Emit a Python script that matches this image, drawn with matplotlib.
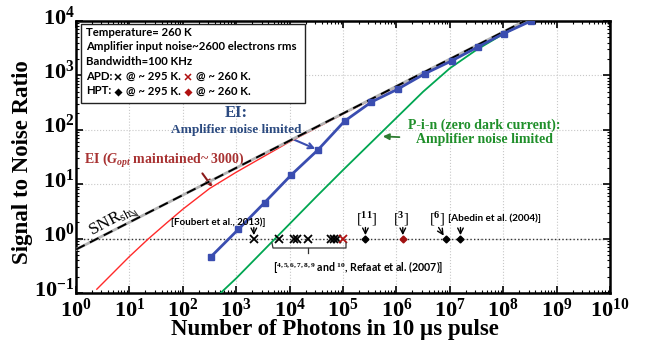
import numpy as np
import matplotlib
matplotlib.use("Agg")
import matplotlib.pyplot as plt
from matplotlib.lines import Line2D
from matplotlib.patches import Rectangle
from matplotlib.transforms import ScaledTranslation
from matplotlib.ticker import LogLocator, FuncFormatter, NullFormatter

# valores (exponentes en base 10)
shot_logn = [0.0, 1.0, 2.0, 3.0, 4.0, 5.0, 6.0, 7.0, 8.0, 8.6]
shot_logsnr = [-0.20, 0.30, 0.80, 1.30, 1.80, 2.30, 2.80, 3.30, 3.80, 4.10]

ei_gopt_logn = [0.39, 1.0, 1.36, 1.7, 2.0, 2.5, 3.0, 3.5, 4.0, 5.0, 6.0, 7.0, 8.0, 8.6]
ei_gopt_logsnr = [-0.93, -0.33, 0.0, 0.29, 0.54, 0.92, 1.22, 1.50, 1.78, 2.29, 2.79, 3.29, 3.79, 4.09]

ei_amp_logn = [2.53, 3.04, 3.53, 4.03, 4.53, 5.03, 5.53, 6.03, 6.53, 7.04, 7.52, 8.01, 8.52]
ei_amp_logsnr = [-0.33, 0.17, 0.66, 1.17, 1.63, 2.16, 2.51, 2.75, 3.03, 3.27, 3.52, 3.77, 4.00]

pin_logn = [2.6, 3.0, 3.5, 4.0, 4.5, 5.0, 5.5, 6.0, 6.5, 7.0, 7.5, 8.0, 8.5]
pin_logsnr = [-1.10, -0.73, -0.23, 0.27, 0.77, 1.26, 1.74, 2.22, 2.70, 3.13, 3.47, 3.76, 4.01]

# dispositivos reportados (SNR = 1)
apd295_logn = [3.33, 3.81, 4.08, 4.14, 4.35, 4.77, 4.83, 4.89]
apd260_logn = [5.0]
hpt295_logn = [5.42, 6.92, 7.2]
hpt260_logn = [6.12]

W, H = 648, 348

plt.rcParams['mathtext.fontset'] = 'custom'
plt.rcParams['mathtext.rm'] = 'Liberation Serif'
plt.rcParams['mathtext.it'] = 'Liberation Serif:italic:bold'
plt.rcParams['mathtext.bf'] = 'Liberation Serif:bold'
plt.rcParams['mathtext.default'] = 'bf'

SERIF = 'Liberation Serif'
SANS = 'Lato'


def px(x, y):
    """pixeles (desde arriba) -> fraccion de figura"""
    return x / W, 1 - y / H


fig = plt.figure(figsize=(W / 100, H / 100), dpi=100)
ax = fig.add_axes([76 / W, 55 / H, 534 / W, 272 / H])

p = lambda v: np.power(10.0, v)

ax.plot(p(pin_logn), p(pin_logsnr), color='#00a651', lw=1.3, zorder=3)
ax.plot(p(ei_gopt_logn), p(ei_gopt_logsnr), color='#ff2a2a', lw=1.0, zorder=4)
ax.plot(p(shot_logn), p(shot_logsnr), color='#b5b5b5', lw=2.0, zorder=4)
ax.plot(p(shot_logn), p(shot_logsnr), color='black', lw=1.4, dashes=(5, 3), zorder=5)
ax.plot(p(ei_amp_logn), p(ei_amp_logsnr), color='#3a4db0', lw=2.0, marker='s',
        markersize=4.5, zorder=6)

ax.axhline(1, color='#333333', ls=':', lw=1.0, zorder=2)

ones = lambda l: np.ones(len(l))
ax.plot(p(apd295_logn), ones(apd295_logn), ls='none', marker='x', color='black',
        markersize=6, mew=1.3, zorder=7)
ax.plot(p(apd260_logn), ones(apd260_logn), ls='none', marker='x', color='#b01010',
        markersize=6, mew=1.3, zorder=7)
ax.plot(p(hpt295_logn), ones(hpt295_logn), ls='none', marker='D', color='black',
        markersize=3.5, zorder=7)
ax.plot(p(hpt260_logn), ones(hpt260_logn), ls='none', marker='D', color='#a01010',
        markersize=3.5, zorder=7)

ax.set_xscale('log')
ax.set_yscale('log')
ax.set_xlim(1, 1e10)
ax.set_ylim(0.1, 1e4)

pow_fmt = FuncFormatter(lambda v, pos: r'$\mathbf{10^{%d}}$' % int(round(np.log10(v))))
ax.xaxis.set_major_locator(LogLocator(base=10, numticks=12))
ax.yaxis.set_major_locator(LogLocator(base=10, numticks=12))
ax.xaxis.set_minor_locator(LogLocator(base=10, subs=np.arange(2, 10), numticks=12))
ax.yaxis.set_minor_locator(LogLocator(base=10, subs=np.arange(2, 10), numticks=12))
ax.xaxis.set_major_formatter(pow_fmt)
ax.yaxis.set_major_formatter(pow_fmt)
ax.xaxis.set_minor_formatter(NullFormatter())
ax.yaxis.set_minor_formatter(NullFormatter())

ax.tick_params(which='both', direction='in', top=True, right=True, labelsize=16)
ax.tick_params(which='major', length=5, width=1.2)
ax.tick_params(axis='x', which='major', pad=3)
ax.tick_params(axis='y', which='major', pad=1)
ax.tick_params(which='minor', length=2.5, width=0.8)
for s in ax.spines.values():
    s.set_linewidth(1.8)
ax.grid(True, which='major', ls=':', color='#c8c8c8', lw=0.8)

# etiquetas del eje y algo por encima de su marca
for lab in ax.get_yticklabels():
    lab.set_transform(lab.get_transform() + ScaledTranslation(0, 4.5 / 72, fig.dpi_scale_trans))

ax.set_xlabel('Number of Photons in 10 µs pulse', fontsize=16.5,
              family=SERIF, weight='bold')
ax.xaxis.set_label_coords(0.485, -0.095)
ax.set_ylabel('Signal to Noise Ratio', fontsize=16.5, family=SERIF, weight='bold')
ax.yaxis.set_label_coords(-0.08, 0.48)

# cuadro de condiciones
fig.patches.append(Rectangle(px(81, 103), 224 / W, 79 / H, transform=fig.transFigure,
                             facecolor='white', edgecolor='#222222', lw=1.0, zorder=8))
info = ['Temperature= 260 K', 'Amplifier input noise~2600 electrons rms',
        'Bandwidth=100 KHz']
FS_BOX = 8.2
for i, t in enumerate(info):
    fig.text(*px(86, 32 + 14.8 * i), t, fontsize=FS_BOX, family=SANS, weight='bold',
             va='center', zorder=9)
for yy, lab, mk, ms in [(76, 'APD:', 'x', 5), (91, 'HPT:', 'D', 3)]:
    fig.text(*px(86, yy), lab, fontsize=FS_BOX, family=SANS, weight='bold', va='center', zorder=9)
    fig.text(*px(126, yy), '@ ~ 295 K.', fontsize=FS_BOX, family=SANS, weight='bold', va='center', zorder=9)
    fig.text(*px(196, yy), '@ ~ 260 K.', fontsize=FS_BOX, family=SANS, weight='bold', va='center', zorder=9)
    for xx, c in [(118, 'black'), (188, '#b01010')]:
        fig.lines.append(Line2D([xx / W], [1 - (yy + 1) / H], transform=fig.transFigure,
                                marker=mk, color=c, markersize=ms, mew=1.1, zorder=9))

# anotaciones de curvas
fig.text(*px(236, 113), 'EI:', ha='center', va='center', fontsize=12, family=SERIF,
         weight='bold', color='#2b4a80')
ax.annotate('Amplifier noise limited', xy=(p(ei_amp_logn[4]), p(ei_amp_logsnr[4])),
            xytext=(236, H - 130), textcoords='figure pixels', ha='center', va='center',
            fontsize=9.5, family=SERIF, weight='bold', color='#2b4a80',
            arrowprops=dict(arrowstyle='->', color='#3a4db0', lw=1.5,
                            relpos=(0.88, 0.0), shrinkA=0, shrinkB=2))
ax.annotate(r'EI ($\mathit{G_{opt}}$ maintained~ 3000)',
            xy=(p(2.55), p(0.95)), xytext=(84, H - 160), textcoords='figure pixels',
            ha='left', va='center', fontsize=10, family=SERIF, weight='bold', color='#a83232',
            arrowprops=dict(arrowstyle='-|>', color='#8b1a1a', lw=1.5, mutation_scale=9,
                            relpos=(0.72, 0.0), shrinkA=1, shrinkB=0))
ax.annotate('P-i-n (zero dark current):\nAmplifier noise limited',
            xy=(p(5.72), p(1.88)), xytext=(484, H - 132), textcoords='figure pixels',
            ha='center', va='center', fontsize=10, family=SERIF, weight='bold',
            color='#1f8f2a', linespacing=1.1,
            arrowprops=dict(arrowstyle='-|>', color='#2e7d32', lw=1.3, mutation_scale=9,
                            relpos=(0.0, 0.3), shrinkA=4, shrinkB=1))
ax.text(*px(110, 221), r'SNR$_{\mathrm{sh}}$', transform=fig.transFigure, rotation=28,
        ha='center', va='center', fontsize=12.5, family=SERIF)
ax.annotate('', xy=(p(1.18), p(0.41)), xytext=(129, H - 211), textcoords='figure pixels',
            arrowprops=dict(arrowstyle='->', color='#444444', lw=0.8, shrinkA=0, shrinkB=0))


# etiquetas de referencias
def ref_arrow(logn, dx=0):
    ax.annotate('', xy=(p(logn), 1), xytext=(dx, 8), textcoords='offset points',
                arrowprops=dict(arrowstyle='->', color='black', lw=1.0, shrinkA=0, shrinkB=2.5))


ref_arrow(apd295_logn[0])
ref_arrow(hpt295_logn[0])
ref_arrow(hpt260_logn[0])
ref_arrow(hpt295_logn[1], dx=-5)
ref_arrow(hpt295_logn[2])

fig.text(*px(265, 222), '[Foubert et al., 2013)]', ha='right', va='center', fontsize=7,
         family=SANS, weight='bold')
fig.text(*px(448, 218), '[Abedin et al. (2004)]', ha='left', va='center', fontsize=7.2,
         family=SANS, weight='bold')
for xx, t in [(367, r'[$^{11}$]'), (401, r'[$^{3}$]'), (437, r'[$^{6}$]')]:
    fig.text(*px(xx, 219), t, ha='center', va='center', fontsize=10.5, family=SERIF)
fig.text(*px(273, 267), r'[$^{4, 5, 6, 7, 8, 9}$ and $^{10}$, Refaat et al. (2007)]',
         ha='left', va='center', fontsize=7.7, family=SANS, weight='bold')

# llave bajo el grupo de APDs
bx = [272, 273, 346, 346]
by = [243, 248, 248, 243]
fig.lines.append(Line2D([v / W for v in bx], [1 - v / H for v in by],
                        transform=fig.transFigure, color='#333333', lw=0.9))
fig.lines.append(Line2D([308 / W, 308 / W], [1 - 248 / H, 1 - 253 / H],
                        transform=fig.transFigure, color='#333333', lw=0.9))

fig.savefig('out.png', dpi=100)
